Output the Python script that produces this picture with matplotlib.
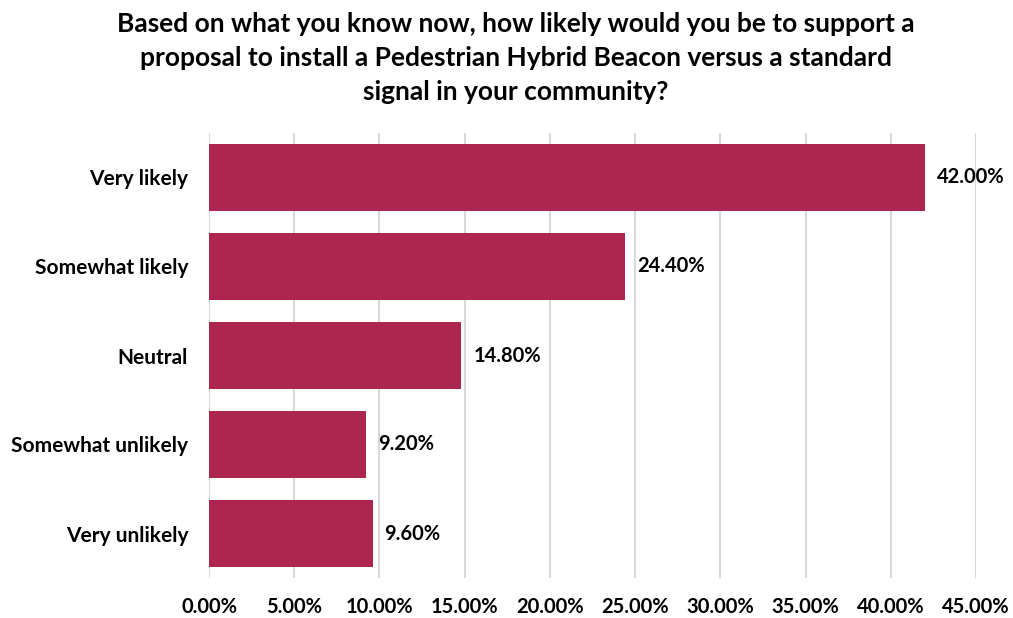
import matplotlib
matplotlib.use("Agg")
import matplotlib.pyplot as plt
from matplotlib.ticker import FuncFormatter, MultipleLocator

plt.rcParams['font.family'] = ['Lato', 'DejaVu Sans']
plt.rcParams['font.weight'] = 'bold'

categories = ["Very likely", "Somewhat likely", "Neutral", "Somewhat unlikely", "Very unlikely"]
values = [42.0, 24.4, 14.8, 9.2, 9.6]
title = ("Based on what you know now, how likely would you be to support a\n"
         "proposal to install a Pedestrian Hybrid Beacon versus a standard\n"
         "signal in your community?")

bar_color = "#AD2650"

fig = plt.figure(figsize=(10.13, 6.18), dpi=100)
ax = fig.add_axes([209/1013, 1-578/618, (976-209)/1013, (578-133)/618])

y = list(range(len(categories)))
ax.barh(y, values, height=0.75, color=bar_color, zorder=3)
ax.set_ylim(len(categories)-0.5, -0.5)
ax.set_xlim(0, 45)
ax.xaxis.set_major_locator(MultipleLocator(5))
ax.xaxis.set_major_formatter(FuncFormatter(lambda v, p: f"{v:.2f}%"))
ax.set_yticks(y)
ax.set_yticklabels(categories)
ax.grid(axis='x', color='#D9D9D9', linewidth=1.5, zorder=0)
for s in ax.spines.values():
    s.set_visible(False)
ax.tick_params(axis='x', length=0, labelsize=14.5, pad=14)
ax.tick_params(axis='y', length=0, labelsize=15, pad=15)

for yi, v in zip(y, values):
    ax.text(v + 0.7, yi, f"{v:.2f}%", va='center', ha='left', fontsize=14.5, fontweight='bold')

fig.text(0.509, 0.98, title, ha='center', va='top', fontsize=19, fontweight='bold',
         linespacing=1.5)

fig.savefig("out.png", dpi=100)
